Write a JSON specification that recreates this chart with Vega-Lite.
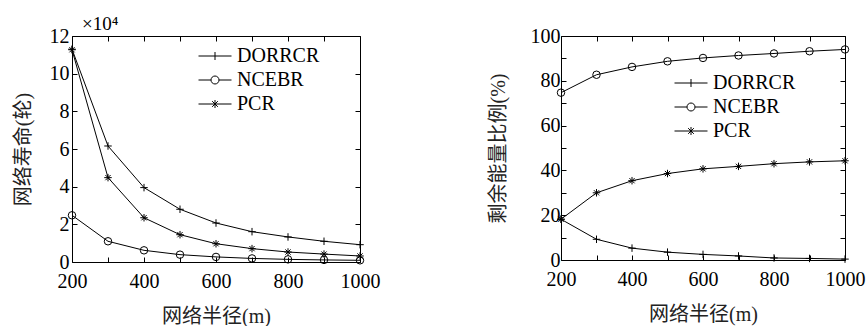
{
  "$schema": "https://vega.github.io/schema/vega-lite/v6.json",
  "background": "white",
  "padding": {"left": 12, "top": 14, "right": 0, "bottom": 0},
  "bounds": "flush",
  "spacing": 201,
  "resolve": {"scale": {"x": "independent", "y": "independent", "shape": "independent"}, "legend": {"shape": "independent"}},
  "config": {
    "view": {"stroke": "black", "strokeWidth": 1},
    "font": "Liberation Serif, Times New Roman, serif",
    "axis": {
      "labelFont": "Liberation Serif, Times New Roman, serif", "labelFontSize": 20, "labelColor": "black",
      "titleFont": "Liberation Serif, Noto Sans CJK SC, serif", "titleFontSize": 20, "titleFontWeight": "normal", "titleColor": "#222",
      "domain": false, "tickColor": "black", "tickSize": -5, "tickWidth": 1, "grid": false, "labelPadding": 8,
      "labelFlush": false, "format": "d"
    },
    "legend": {
      "title": null, "orient": "none", "labelFont": "Liberation Serif, Times New Roman, serif", "labelFontSize": 20, "labelColor": "black",
      "symbolSize": 100, "symbolStrokeColor": "black", "symbolStrokeWidth": 1, "symbolFillColor": "transparent", "symbolOpacity": 1,
      "labelOffset": 12, "rowPadding": 4, "padding": 0
    }
  },
  "datasets": {
    "life": [
      {"r": 200, "m": "DORRCR", "v": 11.3}, {"r": 300, "m": "DORRCR", "v": 6.16}, {"r": 400, "m": "DORRCR", "v": 3.95},
      {"r": 500, "m": "DORRCR", "v": 2.8}, {"r": 600, "m": "DORRCR", "v": 2.07}, {"r": 700, "m": "DORRCR", "v": 1.61},
      {"r": 800, "m": "DORRCR", "v": 1.33}, {"r": 900, "m": "DORRCR", "v": 1.1}, {"r": 1000, "m": "DORRCR", "v": 0.92},
      {"r": 200, "m": "NCEBR", "v": 2.48}, {"r": 300, "m": "NCEBR", "v": 1.1}, {"r": 400, "m": "NCEBR", "v": 0.62},
      {"r": 500, "m": "NCEBR", "v": 0.39}, {"r": 600, "m": "NCEBR", "v": 0.27}, {"r": 700, "m": "NCEBR", "v": 0.19},
      {"r": 800, "m": "NCEBR", "v": 0.14}, {"r": 900, "m": "NCEBR", "v": 0.11}, {"r": 1000, "m": "NCEBR", "v": 0.09},
      {"r": 200, "m": "PCR", "v": 11.27}, {"r": 300, "m": "PCR", "v": 4.48}, {"r": 400, "m": "PCR", "v": 2.35},
      {"r": 500, "m": "PCR", "v": 1.45}, {"r": 600, "m": "PCR", "v": 0.97}, {"r": 700, "m": "PCR", "v": 0.71},
      {"r": 800, "m": "PCR", "v": 0.53}, {"r": 900, "m": "PCR", "v": 0.42}, {"r": 1000, "m": "PCR", "v": 0.32}
    ],
    "energy": [
      {"r": 200, "m": "DORRCR", "v": 18.2}, {"r": 300, "m": "DORRCR", "v": 9.25}, {"r": 400, "m": "DORRCR", "v": 5.3},
      {"r": 500, "m": "DORRCR", "v": 3.5}, {"r": 600, "m": "DORRCR", "v": 2.5}, {"r": 700, "m": "DORRCR", "v": 1.8},
      {"r": 800, "m": "DORRCR", "v": 0.9}, {"r": 900, "m": "DORRCR", "v": 0.7}, {"r": 1000, "m": "DORRCR", "v": 0.4},
      {"r": 200, "m": "NCEBR", "v": 74.7}, {"r": 300, "m": "NCEBR", "v": 82.7}, {"r": 400, "m": "NCEBR", "v": 86.2},
      {"r": 500, "m": "NCEBR", "v": 88.7}, {"r": 600, "m": "NCEBR", "v": 90.2}, {"r": 700, "m": "NCEBR", "v": 91.3},
      {"r": 800, "m": "NCEBR", "v": 92.2}, {"r": 900, "m": "NCEBR", "v": 93.2}, {"r": 1000, "m": "NCEBR", "v": 94.0},
      {"r": 200, "m": "PCR", "v": 18.2}, {"r": 300, "m": "PCR", "v": 30.0}, {"r": 400, "m": "PCR", "v": 35.4},
      {"r": 500, "m": "PCR", "v": 38.6}, {"r": 600, "m": "PCR", "v": 40.7}, {"r": 700, "m": "PCR", "v": 41.8},
      {"r": 800, "m": "PCR", "v": 43.0}, {"r": 900, "m": "PCR", "v": 43.8}, {"r": 1000, "m": "PCR", "v": 44.3}
    ]
  },
  "hconcat": [
    {
      "width": 288, "height": 226,
      "title": {"text": "×10⁴", "anchor": "start", "frame": "group", "dx": 10, "fontSize": 19, "font": "Liberation Serif, Times New Roman, serif", "fontWeight": "normal", "color": "black", "offset": -8},
      "data": {"name": "life"},
      "resolve": {"axis": {"x": "independent", "y": "independent"}},
      "layer": [
        {
          "mark": {"type": "line", "color": "black", "strokeWidth": 1},
          "encoding": {
            "x": {"field": "r", "type": "quantitative", "scale": {"domain": [200, 1000], "nice": false},
                  "axis": {"values": [200, 300, 400, 500, 600, 700, 800, 900, 1000], "labelExpr": "datum.value % 200 === 0 ? datum.label : ''", "title": "网络半径(m)", "titlePadding": 15, "labelPadding": 14}},
            "y": {"field": "v", "type": "quantitative", "scale": {"domain": [0, 12], "nice": false},
                  "axis": {"values": [0, 2, 4, 6, 8, 10, 12], "title": "网络寿命(轮)", "titlePadding": 16}},
            "detail": {"field": "m"}
          }
        },
        {
          "transform": [{"filter": "datum.m === 'DORRCR'"}],
          "mark": {"type": "point", "filled": false, "color": "black", "strokeWidth": 1, "size": 56, "opacity": 1, "shape": "M-1,0L1,0M0,-1L0,1"},
          "encoding": {
            "x": {"field": "r", "type": "quantitative", "axis": {"orient": "top", "labels": false, "title": null, "values": [200, 300, 400, 500, 600, 700, 800, 900, 1000]}},
            "y": {"field": "v", "type": "quantitative", "axis": {"orient": "right", "labels": false, "title": null, "values": [0, 2, 4, 6, 8, 10, 12]}}
          }
        },
        {
          "transform": [{"filter": "datum.m === 'NCEBR'"}],
          "mark": {"type": "point", "filled": false, "color": "black", "strokeWidth": 1, "size": 56, "opacity": 1, "shape": "circle"},
          "encoding": {
            "x": {"field": "r", "type": "quantitative", "axis": null},
            "y": {"field": "v", "type": "quantitative", "axis": null}
          }
        },
        {
          "transform": [{"filter": "datum.m === 'PCR'"}],
          "mark": {"type": "point", "filled": false, "color": "black", "strokeWidth": 1, "size": 56, "opacity": 1, "shape": "M-1,0L1,0M0,-1L0,1M-0.7,-0.7L0.7,0.7M-0.7,0.7L0.7,-0.7"},
          "encoding": {
            "x": {"field": "r", "type": "quantitative", "axis": null},
            "y": {"field": "v", "type": "quantitative", "axis": null}
          }
        },
        {
          "mark": {"type": "point", "filled": false, "color": "black", "strokeWidth": 1, "opacity": 0},
          "encoding": {
            "x": {"field": "r", "type": "quantitative", "axis": null},
            "y": {"field": "v", "type": "quantitative", "axis": null},
            "shape": {"field": "m", "type": "nominal",
                      "scale": {"domain": ["DORRCR", "NCEBR", "PCR"], "range": ["M-3.3,0L3.3,0M0,-0.8L0,0.8", "M-3.3,0L-0.8,0M0.8,0L3.3,0M-0.8,0A0.8,0.8,0,1,1,0.8,0A0.8,0.8,0,1,1,-0.8,0", "M-3.3,0L3.3,0M0,-0.8L0,0.8M-0.57,-0.57L0.57,0.57M-0.57,0.57L0.57,-0.57"]},
                      "legend": {"legendX": 133, "legendY": 10}}
          }
        }
      ]
    },
    {
      "width": 284, "height": 224,
      "data": {"name": "energy"},
      "resolve": {"axis": {"x": "independent", "y": "independent"}},
      "layer": [
        {
          "mark": {"type": "line", "color": "black", "strokeWidth": 1},
          "encoding": {
            "x": {"field": "r", "type": "quantitative", "scale": {"domain": [200, 1000], "nice": false},
                  "axis": {"values": [200, 300, 400, 500, 600, 700, 800, 900, 1000], "labelExpr": "datum.value % 200 === 0 ? datum.label : ''", "title": "网络半径(m)", "titlePadding": 15, "labelPadding": 14}},
            "y": {"field": "v", "type": "quantitative", "scale": {"domain": [0, 100], "nice": false},
                  "axis": {"values": [0, 10, 20, 30, 40, 50, 60, 70, 80, 90, 100], "labelExpr": "datum.value % 20 === 0 ? datum.label : ''", "title": "剩余能量比例(%)", "titlePadding": 22, "labelPadding": 6}},
            "detail": {"field": "m"}
          }
        },
        {
          "transform": [{"filter": "datum.m === 'DORRCR'"}],
          "mark": {"type": "point", "filled": false, "color": "black", "strokeWidth": 1, "size": 56, "opacity": 1, "shape": "M-1,0L1,0M0,-1L0,1"},
          "encoding": {
            "x": {"field": "r", "type": "quantitative", "axis": {"orient": "top", "labels": false, "title": null, "values": [200, 300, 400, 500, 600, 700, 800, 900, 1000]}},
            "y": {"field": "v", "type": "quantitative", "axis": {"orient": "right", "labels": false, "title": null, "values": [0, 10, 20, 30, 40, 50, 60, 70, 80, 90, 100]}}
          }
        },
        {
          "transform": [{"filter": "datum.m === 'NCEBR'"}],
          "mark": {"type": "point", "filled": false, "color": "black", "strokeWidth": 1, "size": 56, "opacity": 1, "shape": "circle"},
          "encoding": {
            "x": {"field": "r", "type": "quantitative", "axis": null},
            "y": {"field": "v", "type": "quantitative", "axis": null}
          }
        },
        {
          "transform": [{"filter": "datum.m === 'PCR'"}],
          "mark": {"type": "point", "filled": false, "color": "black", "strokeWidth": 1, "size": 56, "opacity": 1, "shape": "M-1,0L1,0M0,-1L0,1M-0.7,-0.7L0.7,0.7M-0.7,0.7L0.7,-0.7"},
          "encoding": {
            "x": {"field": "r", "type": "quantitative", "axis": null},
            "y": {"field": "v", "type": "quantitative", "axis": null}
          }
        },
        {
          "mark": {"type": "point", "filled": false, "color": "black", "strokeWidth": 1, "opacity": 0},
          "encoding": {
            "x": {"field": "r", "type": "quantitative", "axis": null},
            "y": {"field": "v", "type": "quantitative", "axis": null},
            "shape": {"field": "m", "type": "nominal",
                      "scale": {"domain": ["DORRCR", "NCEBR", "PCR"], "range": ["M-3.3,0L3.3,0M0,-0.8L0,0.8", "M-3.3,0L-0.8,0M0.8,0L3.3,0M-0.8,0A0.8,0.8,0,1,1,0.8,0A0.8,0.8,0,1,1,-0.8,0", "M-3.3,0L3.3,0M0,-0.8L0,0.8M-0.57,-0.57L0.57,0.57M-0.57,0.57L0.57,-0.57"]},
                      "legend": {"legendX": 120, "legendY": 37}}
          }
        }
      ]
    }
  ]
}
